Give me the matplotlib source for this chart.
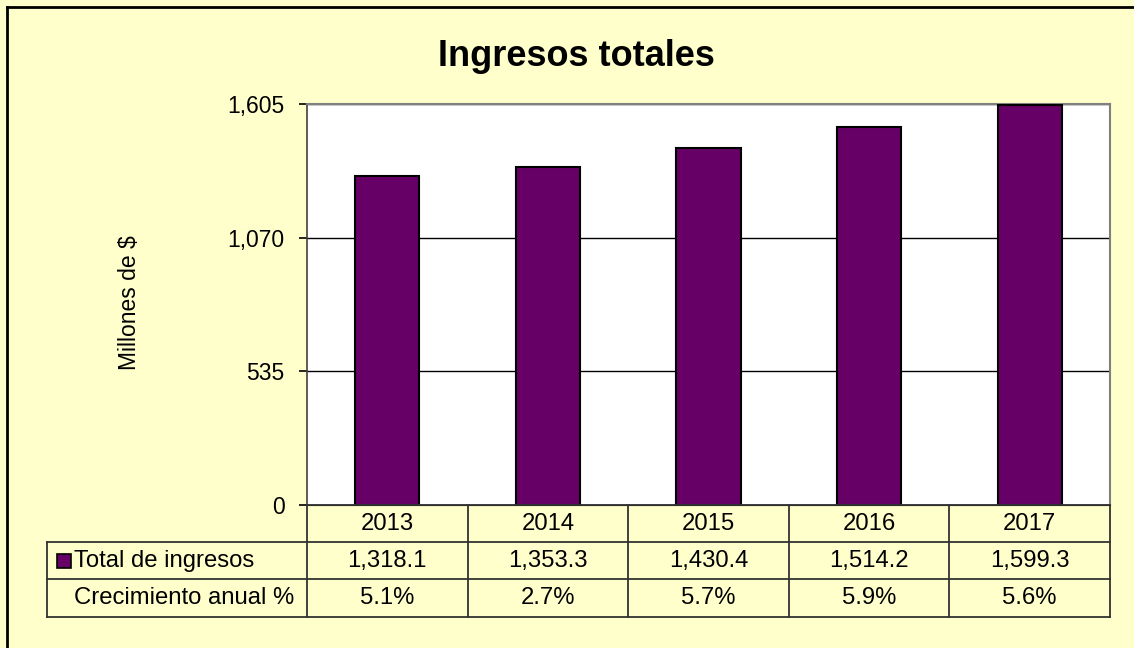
import matplotlib
matplotlib.use('Agg')
import matplotlib.pyplot as plt
import matplotlib.patches as patches

# ---- data ----
years = ['2013', '2014', '2015', '2016', '2017']
ingresos = [1318.1, 1353.3, 1430.4, 1514.2, 1599.3]
crecimiento = [5.1, 2.7, 5.7, 5.9, 5.6]
y_ticks = [0, 535, 1070, 1605]

# ---- style ----
plt.rcParams['font.family'] = ['Liberation Sans', 'DejaVu Sans']
BG = '#FFFFCC'
BAR = '#660066'
FS = 16.5
FS_TAB = 17.2

# layout in pixels
W, H = 1134, 648
L, R, T, B = 307, 1110, 104, 505
LAB_X = 47
ROWS = [505, 542, 579, 617]

fig = plt.figure(figsize=(W / 100, H / 100), dpi=100, facecolor=BG)

# chart area
ax = fig.add_axes([L / W, 1 - B / H, (R - L) / W, (B - T) / H])
ax.set_facecolor('white')
x = range(len(years))
ax.bar(x, ingresos, width=0.4, color=BAR, edgecolor='black', linewidth=1.5, zorder=3)
ax.set_xlim(-0.5, len(years) - 0.5)
ax.set_ylim(0, y_ticks[-1])
ax.set_yticks(y_ticks)
ax.set_yticklabels([f'{v:,}' for v in y_ticks])
ax.set_xticks([])
ax.tick_params(axis='y', direction='out', length=6, width=1.2, pad=10,
               labelsize=FS, colors='black')
ax.yaxis.grid(True, color='black', linewidth=1.0, zorder=1)
for s in ['top', 'right']:
    ax.spines[s].set_color('#808080')
    ax.spines[s].set_linewidth(1.5)
ax.spines['left'].set_color('#404040')
ax.spines['left'].set_linewidth(1.2)
ax.spines['bottom'].set_color('black')

# overlay in pixel coords for title, table and border
ov = fig.add_axes([0, 0, 1, 1], facecolor='none')
ov.set_xlim(0, W)
ov.set_ylim(H, 0)
ov.axis('off')

# outer chart border (only left and top are inside the image)
ov.plot([7, 7], [7, H], color='black', lw=2, clip_on=False)
ov.plot([7, W], [7, 7], color='black', lw=2, clip_on=False)

ov.text(576, 57, 'Ingresos totales', fontsize=26, fontweight='bold',
        ha='center', va='center')
ov.text(129, 303, 'Millones de $', fontsize=FS, rotation=90,
        ha='center', va='center')

# data table
n = len(years)
col_w = (R - L) / n
cols = [L + k * col_w for k in range(n + 1)]
lc = '#333333'
ov.plot([L, R], [ROWS[0], ROWS[0]], color=lc, lw=1.3)
for yy in ROWS[1:]:
    ov.plot([LAB_X, R], [yy, yy], color=lc, lw=1.3)
for xx in cols:
    ov.plot([xx, xx], [ROWS[0], ROWS[-1]], color=lc, lw=1.3)
ov.plot([LAB_X, LAB_X], [ROWS[1], ROWS[-1]], color=lc, lw=1.3)

rows_mid = [(ROWS[i] + ROWS[i + 1]) / 2 for i in range(3)]
for i in range(n):
    cx = (cols[i] + cols[i + 1]) / 2
    ov.text(cx, rows_mid[0], years[i], fontsize=FS_TAB, ha='center', va='center')
    ov.text(cx, rows_mid[1], f'{ingresos[i]:,.1f}', fontsize=FS_TAB, ha='center', va='center')
    ov.text(cx, rows_mid[2], f'{crecimiento[i]:.1f}%', fontsize=FS_TAB, ha='center', va='center')

ov.add_patch(patches.Rectangle((57, rows_mid[1] - 7), 14, 14, facecolor=BAR,
                               edgecolor='black', linewidth=1.2))
ov.text(74, rows_mid[1], 'Total de ingresos', fontsize=FS_TAB, ha='left', va='center')
ov.text(74, rows_mid[2], 'Crecimiento anual %', fontsize=FS_TAB, ha='left', va='center')

fig.savefig('out.png', dpi=100, facecolor=BG)
